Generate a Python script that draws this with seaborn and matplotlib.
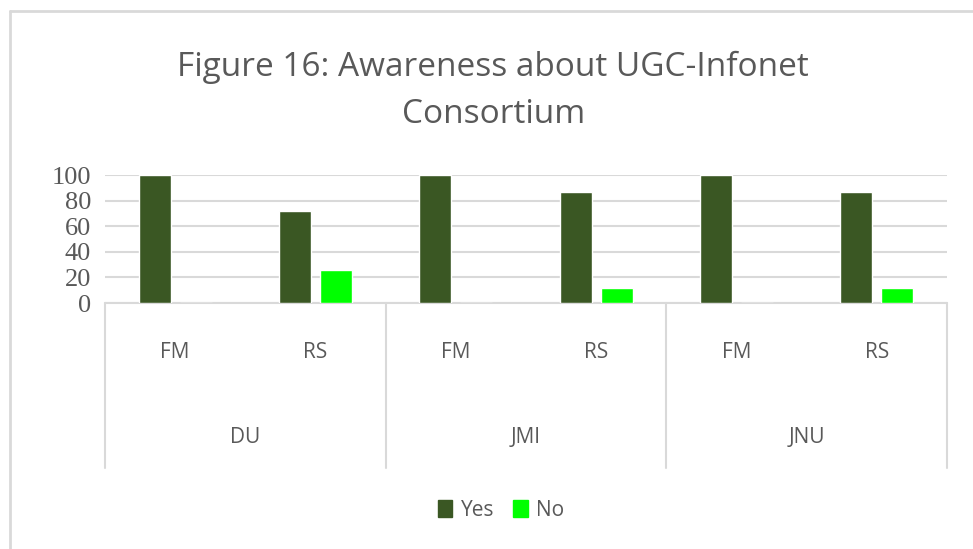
import matplotlib
matplotlib.use("Agg")
import matplotlib.pyplot as plt
from matplotlib.patches import Patch
import seaborn as sns
import pandas as pd

###--- Data
institutions = ["DU", "JMI", "JNU"]
groups = ["FM", "RS"]
yes_vals = [100, 72, 100, 87, 100, 87]
no_vals = [0, 26, 0, 12, 0, 12]
y_ticks = [0, 20, 40, 60, 80, 100]

###--- Long table for seaborn
cats = [i + " " + g for i in institutions for g in groups]
df = pd.DataFrame({
    "cat": cats * 2,
    "resp": ["Yes"] * len(cats) + ["No"] * len(cats),
    "pct": yes_vals + no_vals,
})

sns.set_style("white")
plt.rcParams["font.family"] = ["Open Sans", "DejaVu Sans"]
grey = "#595959"
line_c = "#d9d9d9"
colors = {"Yes": "#3a5723", "No": "#00ff00"}

fig = plt.figure(figsize=(9.73, 5.49), dpi=100)
ax = fig.add_axes([105 / 973, 246 / 549, 842 / 973, 128 / 549])

sns.barplot(data=df, x="cat", y="pct", hue="resp", palette=colors,
            saturation=1, width=0.585, gap=0.22, ax=ax, legend=False, zorder=3)

ax.set_xlim(-0.5, len(cats) - 0.5)
ax.set_ylim(0, 100)
ax.set_yticks(y_ticks)
ax.set_yticklabels([str(v) for v in y_ticks], family="Liberation Serif",
                   fontsize=19, color=grey)
ax.tick_params(axis="y", length=0, pad=10)
ax.set_xticks([])
ax.set_xlabel("")
ax.set_ylabel("")
for s in ax.spines.values():
    s.set_visible(False)
ax.grid(axis="y", color=line_c, linewidth=1.5, zorder=0)
ax.set_axisbelow(True)

###--- Multi-level category box under the plot
ax.plot([0, 1], [0, 0], transform=ax.transAxes, color=line_c, lw=1.5, clip_on=False)
for k in range(len(institutions) + 1):
    xf = k / len(institutions)
    ax.plot([xf, xf], [0, -1.29], transform=ax.transAxes, color=line_c,
            lw=1.5, clip_on=False)
for j, c in enumerate(cats):
    ax.text(j, -0.383, c.split()[1], transform=ax.get_xaxis_transform(),
            ha="center", va="center", fontsize=15, color=grey)
for k, inst in enumerate(institutions):
    ax.text(2 * k + 0.5, -1.047, inst, transform=ax.get_xaxis_transform(),
            ha="center", va="center", fontsize=15, color=grey)

###--- Title
fig.text(0.507, 1 - 91 / 549, "Figure 16: Awareness about UGC-Infonet\nConsortium",
         ha="center", va="center", fontsize=24, color=grey, linespacing=1.55)

###--- Legend
handles = [Patch(color=colors[r], label=r) for r in ["Yes", "No"]]
fig.legend(handles=handles, loc="center", ncol=2,
           bbox_to_anchor=(501 / 973, 1 - 510 / 549), frameon=False,
           fontsize=15, handlelength=0.7, handleheight=0.9, handletextpad=0.4,
           columnspacing=0.9, labelcolor=grey)

###--- Outer chart frame
fig.add_artist(plt.Line2D([10 / 973, 10 / 973], [0, 1 - 11 / 549],
                          color=line_c, lw=2, transform=fig.transFigure))
fig.add_artist(plt.Line2D([10 / 973, 1], [1 - 11 / 549, 1 - 11 / 549],
                          color=line_c, lw=2, transform=fig.transFigure))

fig.savefig("out.png", dpi=100, facecolor="white")
